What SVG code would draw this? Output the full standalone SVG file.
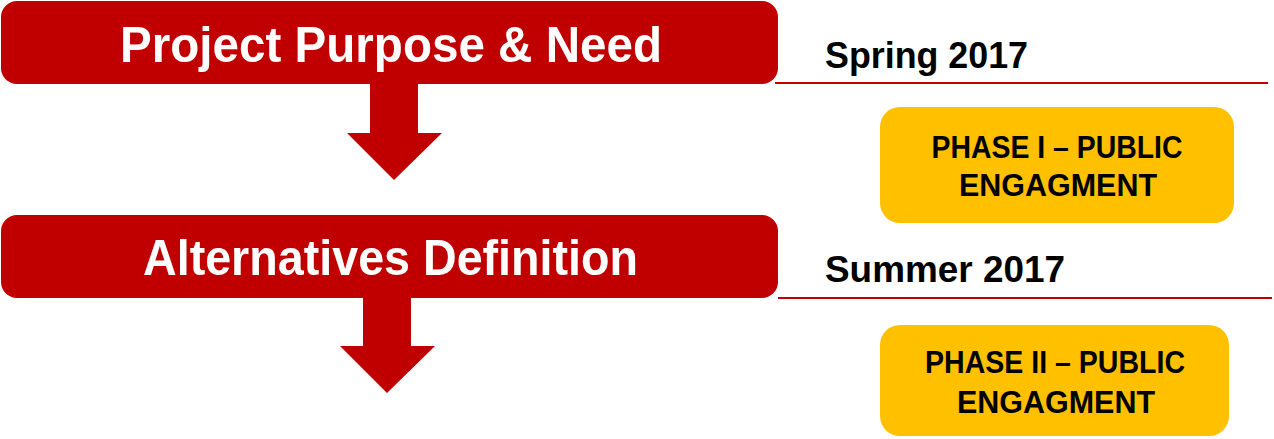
<svg xmlns="http://www.w3.org/2000/svg" width="1274" height="439" viewBox="0 0 1274 439">
<style>
.stage{fill:#C00000}
.stxt{fill:#FFFFFF;font-family:"Liberation Sans",Arial,sans-serif;font-weight:bold;font-size:50px;text-anchor:middle}
.date{fill:#000000;font-family:"Liberation Sans",Arial,sans-serif;font-weight:bold;font-size:37px}
.rule{stroke:#C00000;stroke-width:2;fill:none}
.phase{fill:#FFC000}
.ptxt{fill:#000000;font-family:"Liberation Sans",Arial,sans-serif;font-weight:bold;font-size:31px;text-anchor:middle}
.arrow{fill:#C00000}
</style>
<rect width="1274" height="439" fill="#FFFFFF"/>
<g id="connectors">
<polygon class="arrow" points="370,84 418,84 418,133 442,133 394,180 347,133 370,133"/>
<polygon class="arrow" points="363,298 411,298 411,346 435,346 387,393 340,346 363,346"/>
</g>
<g id="stage1">
<rect class="stage" x="1" y="1" width="777" height="83" rx="16"/>
<text class="stxt" x="391" y="62" textLength="542" lengthAdjust="spacingAndGlyphs">Project Purpose &amp; Need</text>
</g>
<g id="date1">
<line class="rule" x1="775" y1="83" x2="1268" y2="83"/>
<text class="date" x="825" y="68" textLength="203" lengthAdjust="spacingAndGlyphs">Spring 2017</text>
</g>
<g id="phase1">
<rect class="phase" x="880" y="107" width="354" height="116" rx="20"/>
<text class="ptxt" x="1057" y="158" textLength="251" lengthAdjust="spacingAndGlyphs">PHASE I – PUBLIC</text>
<text class="ptxt" x="1058" y="196" textLength="198" lengthAdjust="spacingAndGlyphs">ENGAGMENT</text>
</g>
<g id="stage2">
<rect class="stage" x="1" y="215" width="777" height="83" rx="16"/>
<text class="stxt" x="390.5" y="275" textLength="495" lengthAdjust="spacingAndGlyphs">Alternatives Definition</text>
</g>
<g id="date2">
<line class="rule" x1="778" y1="298" x2="1272" y2="298"/>
<text class="date" x="825" y="282" textLength="240" lengthAdjust="spacingAndGlyphs">Summer 2017</text>
</g>
<g id="phase2">
<rect class="phase" x="880" y="325" width="349" height="111" rx="20"/>
<text class="ptxt" x="1055" y="373" textLength="260" lengthAdjust="spacingAndGlyphs">PHASE II – PUBLIC</text>
<text class="ptxt" x="1056" y="413" textLength="198" lengthAdjust="spacingAndGlyphs">ENGAGMENT</text>
</g>
</svg>
